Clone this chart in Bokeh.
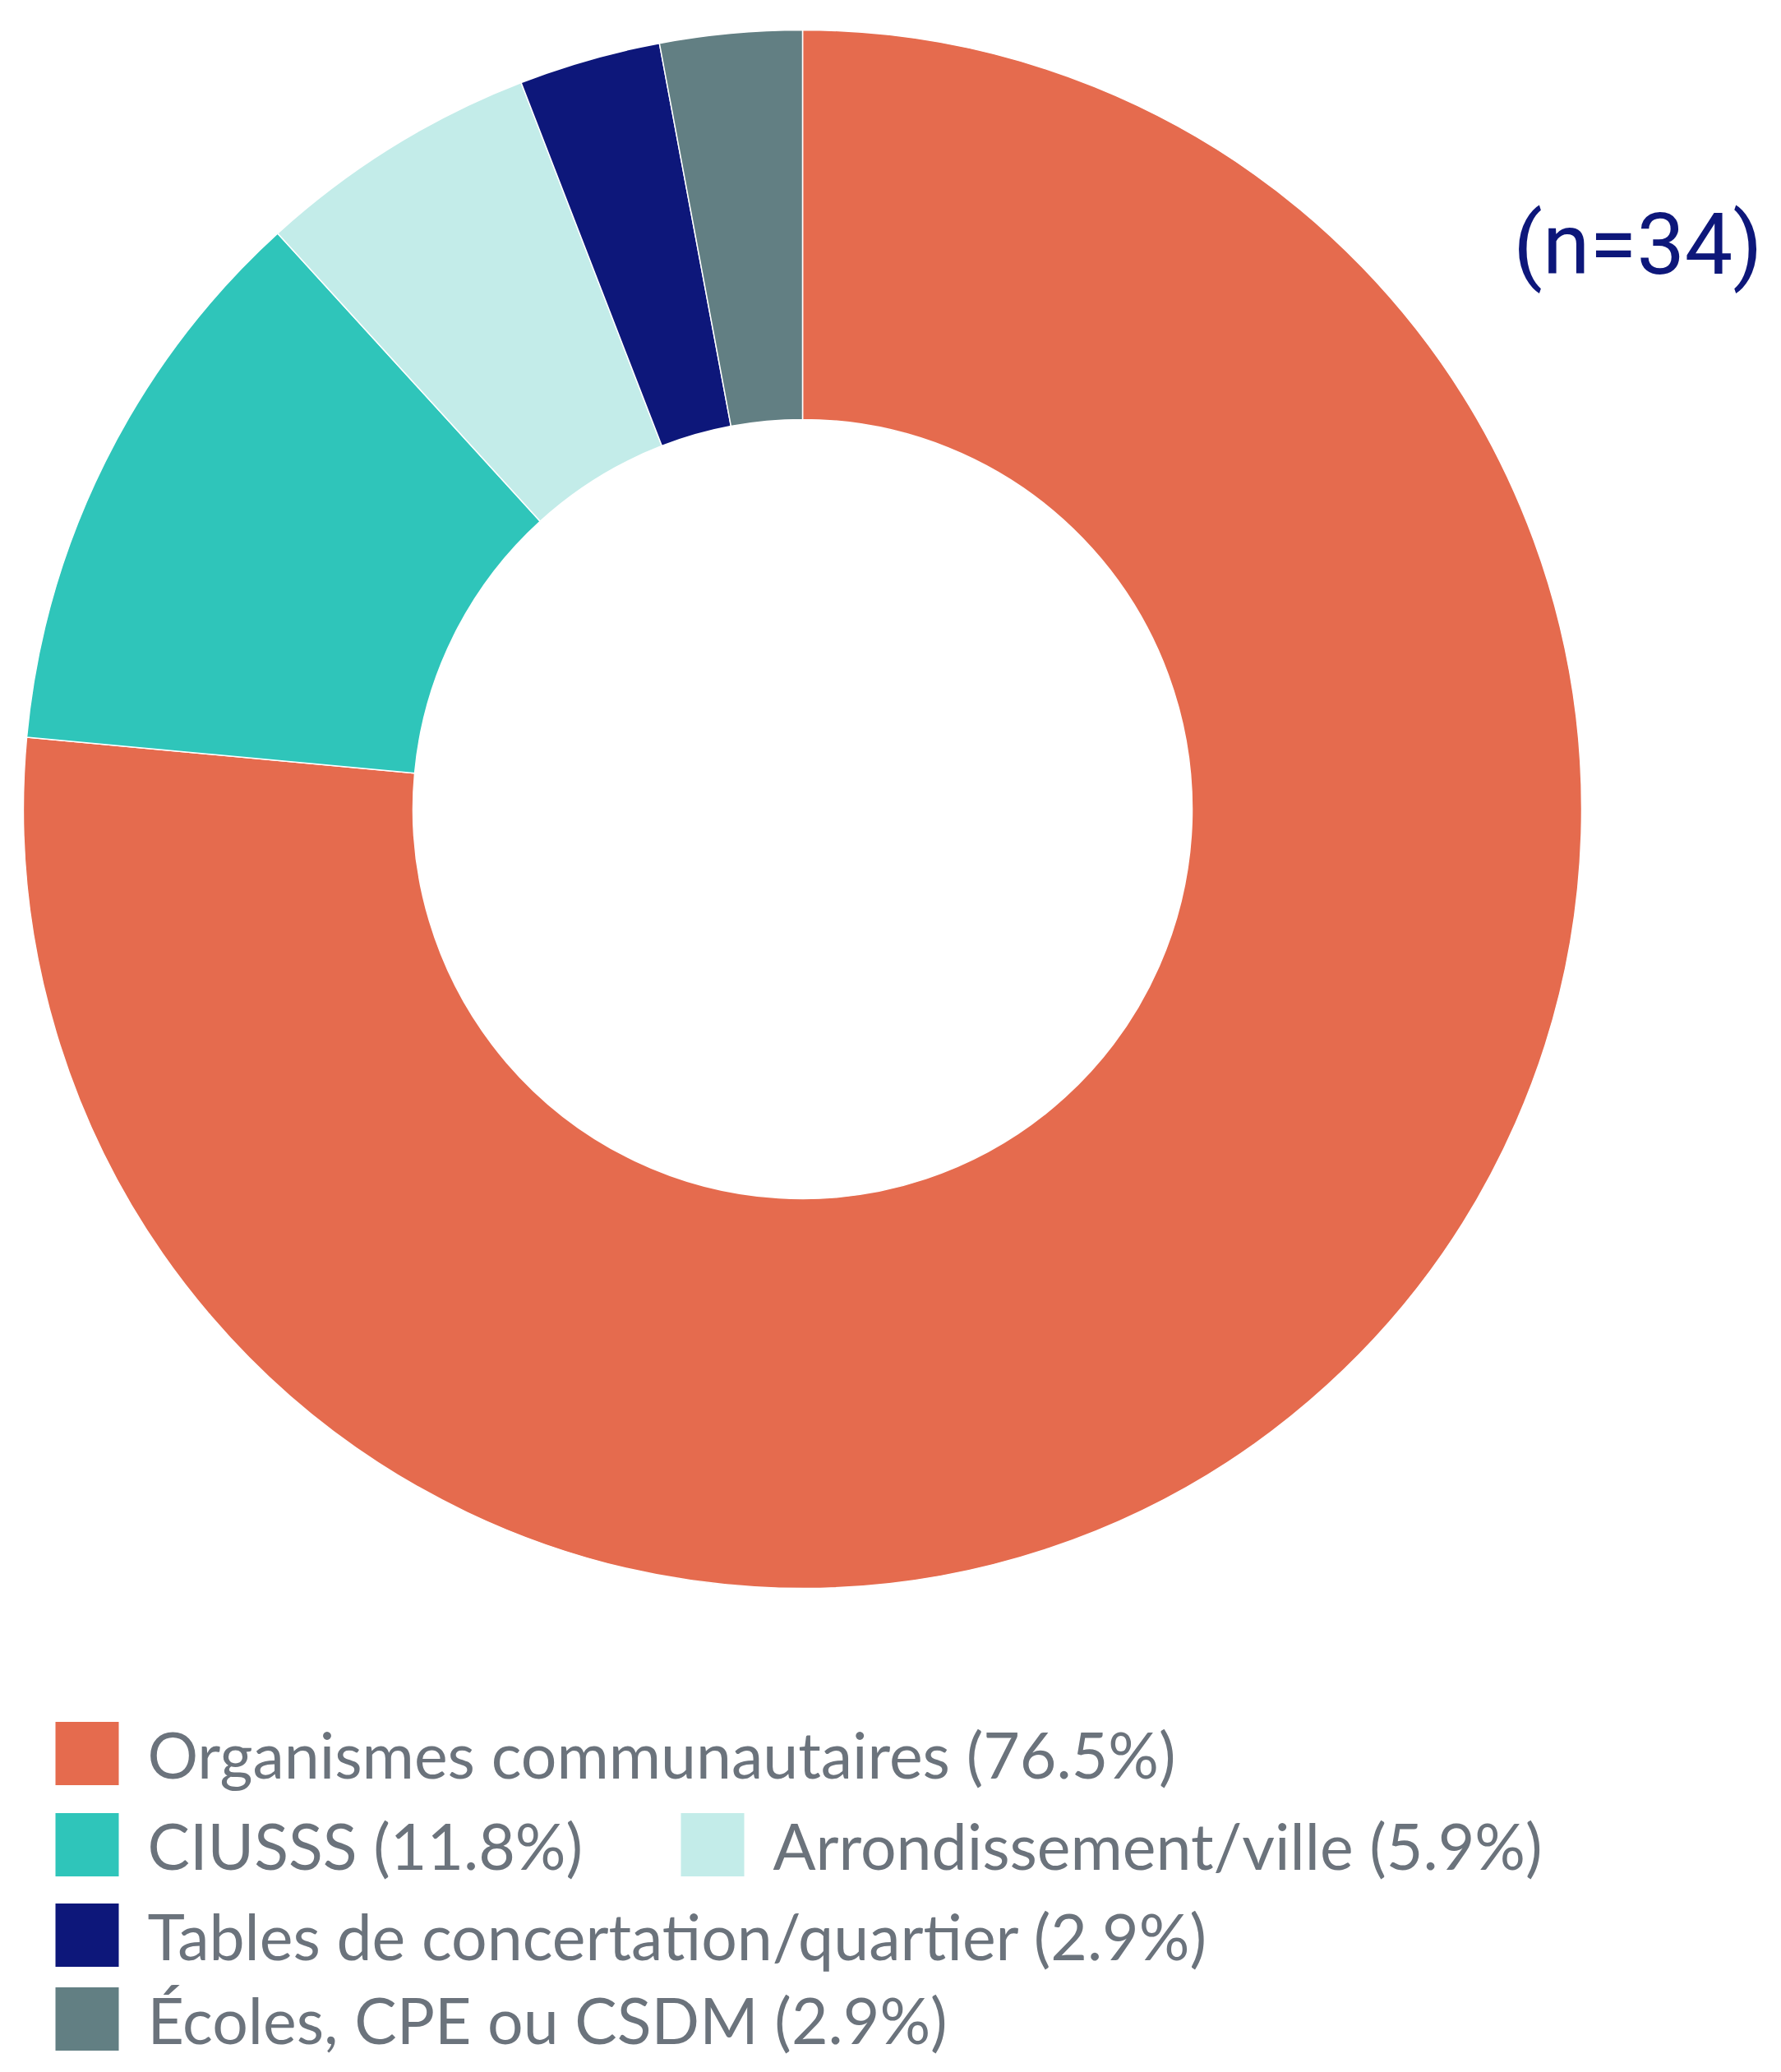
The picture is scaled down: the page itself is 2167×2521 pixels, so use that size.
import math
from bokeh.plotting import figure
from bokeh.models import ColumnDataSource
from bokeh.core.properties import value
from bokeh.embed import file_html
from bokeh.resources import INLINE

# ---- data ----
categories = ["Organismes communautaires", "CIUSSS", "Arrondissement/ville",
              "Tables de concertation/quartier", "Écoles, CPE ou CSDM"]
counts = [26, 4, 2, 1, 1]
colors = ["#E56B4E", "#2FC5BA", "#C3ECE9", "#0D177A", "#627F83"]
n_label = "(n=34)"

W, H = 2151, 2505
total = sum(counts)
fracs = [c / total for c in counts]
pcts = [round(100 * f, 1) for f in fracs]

starts, ends = [], []
cum = 0.0
for f in fracs:
    starts.append(math.pi / 2 - 2 * math.pi * cum)
    cum += f
    ends.append(math.pi / 2 - 2 * math.pi * cum)

cx, cy = 976, H - 984
r_out, r_in = 948, 474

p = figure(width=W, height=H, x_range=(0, W), y_range=(0, H),
           output_backend="svg", toolbar_location=None,
           min_border=0, outline_line_color=None)
p.axis.visible = False
p.grid.visible = False
p.background_fill_color = "white"
p.border_fill_color = "white"

src = ColumnDataSource(dict(start=starts, end=ends, color=colors))
p.annular_wedge(x=cx, y=cy, inner_radius=r_in, outer_radius=r_out,
                start_angle="start", end_angle="end", direction="clock",
                fill_color="color", line_color="white", line_width=1.5, source=src)

# legend (flow layout)
row_y = [2133, 2244, 2354, 2456]
slots = [(0, 67), (1, 67), (1, 828), (2, 67), (3, 67)]
sq = 77
lx, ly, tx, labels = [], [], [], []
for i, (cat, pct) in enumerate(zip(categories, pcts)):
    r, x0 = slots[i]
    y = H - row_y[r]
    lx.append(x0 + sq / 2)
    ly.append(y)
    tx.append(x0 + sq + 35)
    labels.append(f"{cat} ({pct:.1f}%)")
leg = ColumnDataSource(dict(x=lx, y=ly, tx=tx, label=labels, color=colors))
p.rect(x="x", y="y", width=sq, height=sq, fill_color="color", line_color=None, source=leg)
p.text(x="tx", y="y", text="label", text_baseline="middle", text_align="left",
       text_font=value("Lato"), text_font_size="77px", text_color="#6B737C", source=leg)

p.text(x=[2144], y=[H - 297], text=[n_label], text_align="right",
       text_baseline="middle", text_font=value("Roboto"),
       text_font_size="104px", text_color="#0D177A")

open("out.html", "w").write(file_html(p, INLINE))
